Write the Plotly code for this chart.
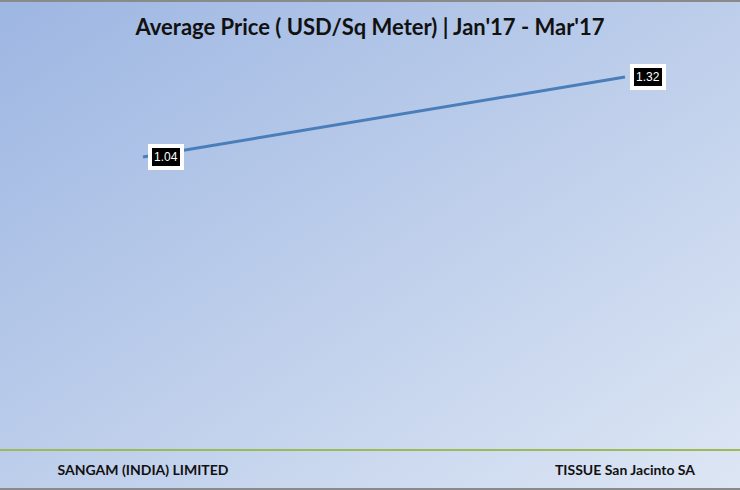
import base64
import plotly.graph_objects as go

categories = ["SANGAM (INDIA) LIMITED", "TISSUE San Jacinto SA"]
avg_price = [1.04, 1.32]
title_text = "Average Price ( USD/Sq Meter) | Jan'17 - Mar'17"

W, H = 740, 490
MT, MB = 49, 41
plot_h = H - MT - MB

svg = f'''<svg xmlns="http://www.w3.org/2000/svg" width="{W}" height="{H}" viewBox="0 0 {W} {H}" preserveAspectRatio="none">
<defs><linearGradient id="g" x1="0" y1="0" x2="1" y2="1">
<stop offset="0" stop-color="#9db6e2"/>
<stop offset="1" stop-color="#dde6f4"/>
</linearGradient></defs>
<rect x="0" y="0" width="{W}" height="{H}" fill="url(#g)"/>
<rect x="0" y="0" width="{W}" height="2" fill="#8a8a8a"/>
<rect x="0" y="{H-2}" width="{W}" height="2" fill="#8a8a8a"/>
</svg>'''
src = "data:image/svg+xml;base64," + base64.b64encode(svg.encode()).decode()

fig = go.Figure()
fig.add_trace(go.Scatter(
    x=categories, y=avg_price, mode="lines",
    line=dict(color="#4a7ebb", width=3), hoverinfo="x+y", showlegend=False,
))

for c, v in zip(categories, avg_price):
    fig.add_annotation(
        x=c, y=v, text=f"{v:.2f}", showarrow=False, xanchor="left", yanchor="middle",
        xshift=5, font=dict(family="Liberation Sans, Arial", size=12, color="white"),
        bgcolor="black", bordercolor="white", borderwidth=4, borderpad=2,
    )

fig.add_layout_image(dict(
    source=src, xref="paper", yref="paper", x=0, y=1 + MT / plot_h,
    sizex=1, sizey=H / plot_h, xanchor="left", yanchor="top",
    sizing="stretch", layer="below",
))

fig.update_layout(
    width=W, height=H,
    margin=dict(l=0, r=0, t=MT, b=MB),
    paper_bgcolor="#c4d3ee", plot_bgcolor="rgba(0,0,0,0)",
    title=dict(text="<b>" + title_text + "</b>", x=0.5, xanchor="center",
               y=1 - 27 / H, yanchor="middle",
               font=dict(family="Lato, Open Sans, sans-serif", size=22, color="#111111")),
    xaxis=dict(type="category", range=[-0.2967, 1.2386], showgrid=False, zeroline=False,
               showline=True, linecolor="#9bbb59", linewidth=1.5,
               ticks="outside", ticklen=7, tickcolor="rgba(0,0,0,0)",
               tickfont=dict(family="Lato, Open Sans, sans-serif", size=14, color="#111111"),
               tickprefix="<b>", ticksuffix="</b>", fixedrange=True),
    yaxis=dict(range=[0.018, 1.418], visible=False, fixedrange=True),
)

fig.write_html("out.html", config={"displayModeBar": False},
               post_script="document.body.style.margin='0';document.body.style.overflow='hidden';")
